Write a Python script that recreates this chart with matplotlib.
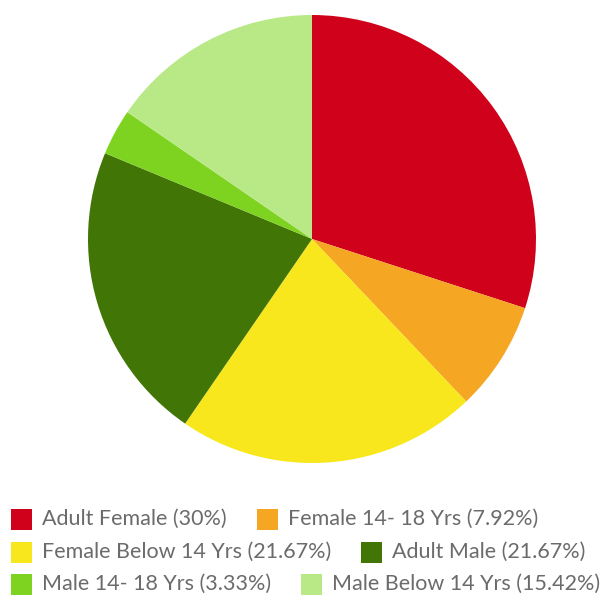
import matplotlib
matplotlib.use('Agg')
import matplotlib.pyplot as plt
from matplotlib.patches import Rectangle

plt.rcParams['font.family'] = ['Lato', 'DejaVu Sans']

# 数据
labels = ['Adult Female', 'Female 14- 18 Yrs', 'Female Below 14 Yrs',
          'Adult Male', 'Male 14- 18 Yrs', 'Male Below 14 Yrs']
values = [30, 7.92, 21.67, 21.67, 3.33, 15.42]
colors = ['#d0021b', '#f5a623', '#f8e71c', '#417505', '#7ed321', '#b8e986']

W, H = 605, 597
fig = plt.figure(figsize=(W / 100, H / 100), dpi=100)

# 饼图：从正上方开始，顺时针
cx, cy, r = 312, 239, 224
ax = fig.add_axes([(cx - r) / W, 1 - (cy + r) / H, 2 * r / W, 2 * r / H])
ax.pie(values, colors=colors, startangle=90, counterclock=False,
       radius=1, wedgeprops=dict(linewidth=0))
ax.set_xlim(-1, 1)
ax.set_ylim(-1, 1)
ax.set_aspect('equal')
ax.axis('off')

# 图例：每行两项，依次排列
rows_y = [519, 552, 584]
box = 21
fig.canvas.draw()
renderer = fig.canvas.get_renderer()
for i, (lab, val, col) in enumerate(zip(labels, values, colors)):
    row = i // 2
    if i % 2 == 0:
        x = 11
    y = rows_y[row]
    fig.patches.append(Rectangle((x / W, 1 - (y + box / 2) / H), box / W, box / H,
                                 transform=fig.transFigure, facecolor=col,
                                 edgecolor='none', figure=fig))
    t = fig.text((x + box + 10) / W, 1 - y / H, f'{lab} ({val:g}%)',
                 fontsize=15.5, color='#6b6b6b', va='center', ha='left')
    bb = t.get_window_extent(renderer)
    x = bb.x1 + 30

fig.savefig('out.png', dpi=100)
